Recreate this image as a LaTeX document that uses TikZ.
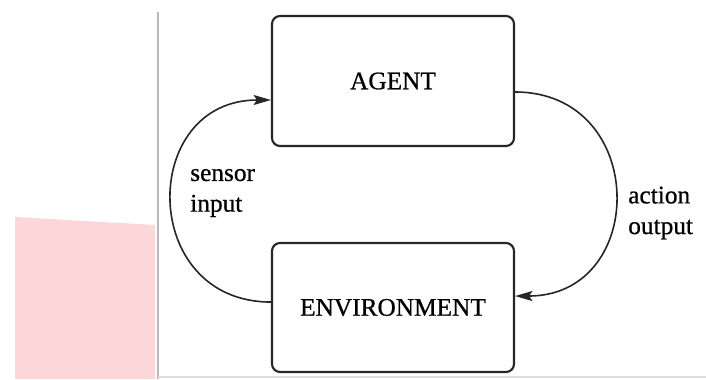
\documentclass[tikz,border=0pt]{standalone}
\usepackage{fontspec}
\setmainfont{Liberation Serif}
\newfontfamily\heavyserif{Liberation Serif}[FakeBold=0.7]
\usetikzlibrary{arrows.meta}
\definecolor{pinkbg}{RGB}{253,214,218}
\definecolor{rulegray}{RGB}{185,185,185}
\definecolor{linegray}{RGB}{222,222,222}
\begin{document}
\begin{tikzpicture}[x=0.75pt,y=-0.75pt,
  box/.style={draw=black!85, line width=1.6pt, rounded corners=6pt,
    minimum width=181.5pt, inner sep=0pt, font=\heavyserif\fontsize{19}{23}\selectfont},
  flow/.style={draw=black!85, line width=1.2pt, -{Stealth[length=13pt,width=7.5pt,inset=2.5pt]}},
  lbl/.style={align=left, inner sep=0pt, font=\heavyserif\fontsize{19}{23}\selectfont}]
\useasboundingbox (0,0) rectangle (706,379);
\fill[white] (0,0) rectangle (706,379);
% pink patch on the left
\fill[pinkbg] (15,217) -- (155,225) -- (155,379) -- (15,379) -- cycle;
% frame lines
\draw[rulegray, line width=1.5pt] (158,12) -- (158,379);
\draw[linegray, line width=1pt] (158,377) -- (706,377);
% boxes
\node[box, minimum height=97.5pt] (agent) at (393,81) {AGENT};
\node[box, minimum height=96.75pt] (env) at (393,307.5) {ENVIRONMENT};
% connectors
\draw[flow] ([yshift=4.1pt]env.west) to[out=180, in=180, looseness=1.68] ([yshift=-14.25pt]agent.west);
\draw[flow] ([yshift=-8.25pt]agent.east) to[out=0, in=0, looseness=1.68] ([yshift=8.6pt]env.east);
% labels
\node[lbl, anchor=west] (sensor) at (190,193) {sensor\\input};
\node[lbl, anchor=west] (action) at (628,213) {action\\output};
\end{tikzpicture}
\end{document}
